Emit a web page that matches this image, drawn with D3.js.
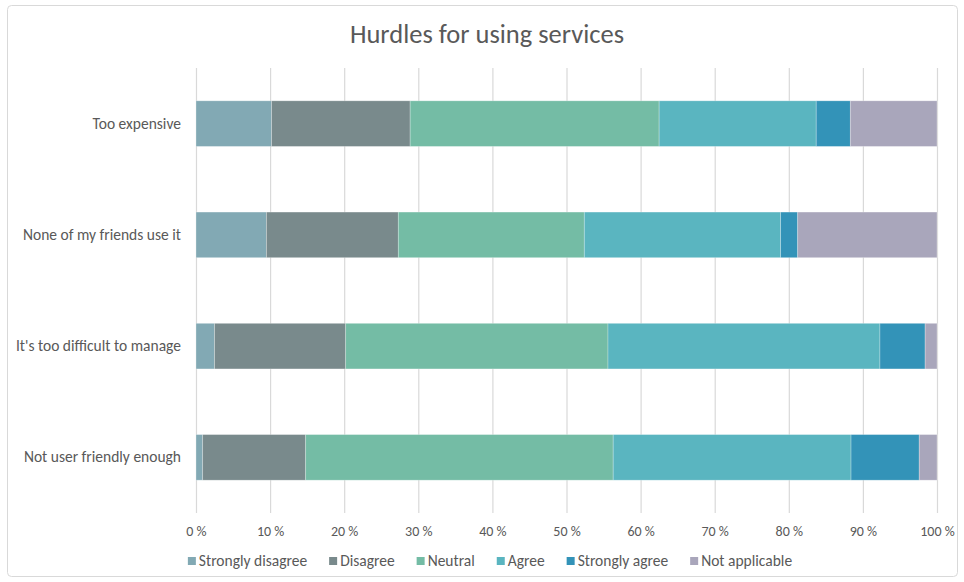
<!DOCTYPE html>
<html>
<head>
<meta charset="utf-8">
<script src="https://cdn.jsdelivr.net/npm/d3@7"></script>
<style>
  html, body { margin: 0; padding: 0; background: #fff; }
  svg { display: block; font-family: Carlito, Lato, "Open Sans", sans-serif; }
</style>
</head>
<body>
<svg id="chart" width="964" height="582"></svg>
<script>
// Survey answers, share of respondents per answer (percent)
const categories = [
  "Too expensive",
  "None of my friends use it",
  "It's too difficult to manage",
  "Not user friendly enough"
];
const seriesNames = ["Strongly disagree", "Disagree", "Neutral", "Agree", "Strongly agree", "Not applicable"];
const stronglyDisagree = [10.2, 9.5, 2.5, 0.9];
const disagree         = [18.7, 17.8, 17.7, 13.9];
const neutral          = [33.6, 25.1, 35.4, 41.5];
const agree            = [21.2, 26.5, 36.7, 32.1];
const stronglyAgree    = [4.6, 2.3, 6.1, 9.2];
const notApplicable    = [11.7, 18.8, 1.6, 2.4];
const xTicks = [0, 10, 20, 30, 40, 50, 60, 70, 80, 90, 100];
const colors = ["#82a9b4", "#798a8c", "#74bca5", "#5ab5c0", "#3393b8", "#a9a6bb"];

const seriesValues = [stronglyDisagree, disagree, neutral, agree, stronglyAgree, notApplicable];
const rows = categories.map((c, i) => {
  const r = { category: c };
  seriesNames.forEach((s, j) => { r[s] = seriesValues[j][i]; });
  return r;
});

const FONT = "Carlito, Lato, 'Open Sans', sans-serif";
const svg = d3.select("#chart");
const W = 964, H = 582;
const margin = { left: 196, right: 27, top: 68, bottom: 69 };

// chart frame
svg.append("rect")
  .attr("x", 7.5).attr("y", 5.5)
  .attr("width", 950).attr("height", 571)
  .attr("rx", 4)
  .attr("fill", "#fff")
  .attr("stroke", "#d9d9d9")
  .attr("stroke-width", 1);

const x = d3.scaleLinear().domain([0, 100]).range([margin.left, W - margin.right]);
const y = d3.scaleBand().domain(categories)
  .range([margin.top, H - margin.bottom])
  .paddingInner(0.59).paddingOuter(0.295);

// vertical gridlines + tick labels
const xAxis = d3.axisBottom(x).tickValues(xTicks)
  .tickSize(-(H - margin.bottom - margin.top))
  .tickPadding(13)
  .tickFormat(d => d + " %");
const gx = svg.append("g")
  .attr("transform", `translate(0,${H - margin.bottom})`)
  .call(xAxis);
gx.select(".domain").remove();
gx.selectAll(".tick line").attr("stroke", "#d9d9d9").attr("stroke-width", 1.2);
gx.selectAll(".tick text").attr("fill", "#595959").attr("font-size", 14)
  .attr("font-family", FONT);

// category labels
const yAxis = d3.axisLeft(y).tickSize(0).tickPadding(15);
const gy = svg.append("g").attr("transform", `translate(${margin.left},0)`).call(yAxis);
gy.select(".domain").remove();
gy.selectAll(".tick text").attr("fill", "#595959").attr("font-size", 15.5)
  .attr("font-family", FONT);

// stacked bars
const stack = d3.stack().keys(seriesNames);
const layers = stack(rows);
svg.append("g").selectAll("g")
  .data(layers)
  .join("g")
  .attr("fill", (d, i) => colors[i])
  .selectAll("rect")
  .data(d => d)
  .join("rect")
  .attr("x", d => x(d[0]))
  .attr("y", d => y(d.data.category))
  .attr("width", d => x(d[1]) - x(d[0]))
  .attr("height", y.bandwidth())
  .attr("stroke", "#ffffff")
  .attr("stroke-opacity", 0.35)
  .attr("stroke-width", 0.75);

// title
svg.append("text")
  .attr("x", 487).attr("y", 43)
  .attr("text-anchor", "middle")
  .attr("fill", "#595959")
  .attr("font-size", 26.5)
  .text("Hurdles for using services");

// legend
const legend = svg.append("g");
let cx = 0;
seriesNames.forEach((s, i) => {
  const g = legend.append("g").attr("transform", `translate(${cx},0)`);
  g.append("rect").attr("x", 0).attr("y", -4).attr("width", 8).attr("height", 8).attr("fill", colors[i]);
  const t = g.append("text").attr("x", 11).attr("y", 0).attr("dy", "0.35em")
    .attr("fill", "#595959").attr("font-size", 15.5).text(s);
  cx += 11 + t.node().getComputedTextLength() + 22;
});
const legendWidth = cx - 22;
legend.attr("transform", `translate(${490 - legendWidth / 2},561)`);
</script>
</body>
</html>
